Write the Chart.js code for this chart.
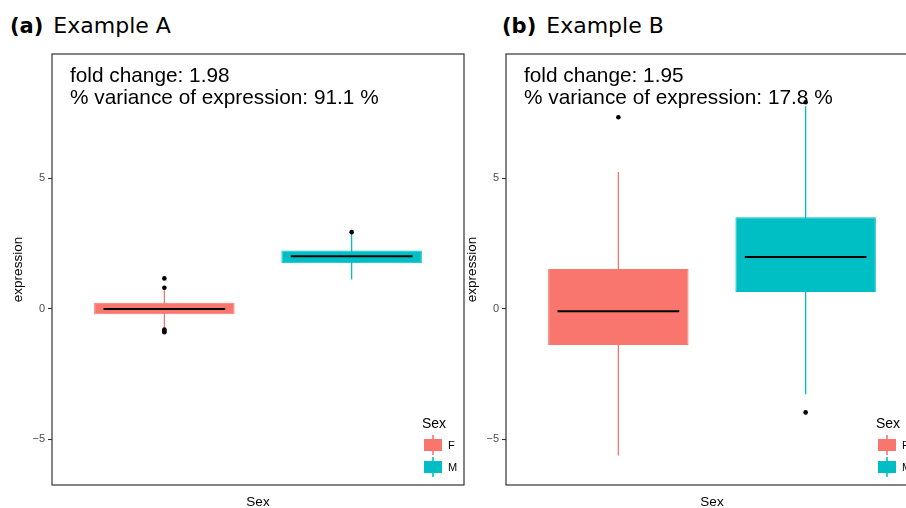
<!DOCTYPE html>
<html>
<head>
<meta charset="utf-8">
<title>Example A / Example B</title>
<script src="https://cdn.jsdelivr.net/npm/chart.js@4.4.1/dist/chart.umd.min.js"></script>
<style>
    html, body { margin: 0; padding: 0; background: #fff; overflow: hidden; width: 906px; height: 508px; }
    .panel { position: absolute; top: 0; width: 470px; height: 508px; }
    .panel canvas { position: absolute; left: 0; top: 0; }
    .tag { position: absolute; top: 15px; font-family: 'DejaVu Sans', sans-serif; font-size: 22px; line-height: 21px; color: #000; white-space: nowrap; }
    .tag b { font-weight: bold; font-size: 21px; margin-right: 3px; }
    .annot { position: absolute; left: 70px; top: 64px; font-family: 'Liberation Sans', Arial, sans-serif; font-size: 20.8px; line-height: 22px; color: #000; white-space: nowrap; }
    .legend { position: absolute; left: 422px; top: 415px; font-family: 'Liberation Sans', Arial, sans-serif; color: #000; }
    .legend .title { font-size: 14px; line-height: 16px; margin-bottom: 3px; }
    .legend .row { display: flex; align-items: center; height: 22px; }
    .legend .key { position: relative; width: 18px; height: 22px; margin-left: 2px; }
    .legend .key .wline { position: absolute; left: 8.4px; top: 1px; width: 1.3px; height: 20px; opacity: 0.8; }
    .legend .key .wbox { position: absolute; left: 0; top: 5px; width: 18px; height: 12px; }
    .legend .label { font-size: 11px; margin-left: 6px; }
</style>
</head>
<body>
<div class="tag" style="left:10px"><b>(a)</b> Example A</div>
<div class="tag" style="left:502px"><b>(b)</b> Example B</div>

<div class="panel" id="panel-a" style="left:0px">
    <canvas id="chart-a" width="470" height="508"></canvas>
    <div class="annot">fold change: 1.98<br>% variance of expression: 91.1 %</div>
</div>
<div class="panel" id="panel-b" style="left:454px">
    <canvas id="chart-b" width="470" height="508"></canvas>
    <div class="annot">fold change: 1.95<br>% variance of expression: 17.8 %</div>
</div>

<script>
// Data
const groups = ['F', 'M'];
const groupColors = ['#F8766D', '#00BFC4'];
const yTicks = [-5, 0, 5];
const yMin = -6.75;
const yMax = 9.75;

// (a) Example A
const aLower = [-0.73, 1.12];
const aQ1 = [-0.21, 1.74];
const aMedian = [-0.01, 2.01];
const aQ3 = [0.23, 2.23];
const aUpper = [0.74, 2.92];
const aOutliersF = [1.16, 0.80, -0.80, -0.85, -0.90];
const aOutliersM = [2.93];

// (b) Example B
const bLower = [-5.62, -3.28];
const bQ1 = [-1.39, 0.64];
const bMedian = [-0.10, 1.98];
const bQ3 = [1.52, 3.50];
const bUpper = [5.23, 7.75];
const bOutliersF = [7.33];
const bOutliersM = [7.90, -3.97];

// Box geometry (in category units)
const boxWidth = 0.75;
const medianWidth = 0.65;
const xMin = 0.4;
const xMax = 2.6;

// Border round the plot area
const framePlugin = {
    id: 'frame',
    afterDatasetsDraw(chart) {
        const { ctx, chartArea: a } = chart;
        ctx.save();
        ctx.strokeStyle = '#333333';
        ctx.lineWidth = 1.2;
        ctx.strokeRect(a.left, a.top, a.right - a.left, a.bottom - a.top);
        ctx.restore();
    }
};

function boxChart(canvasId, s) {
    const datasets = [];

    groups.forEach((g, i) => {
        // whisker
        datasets.push({
            type: 'line',
            data: [{ x: i + 1, y: s.lower[i] }, { x: i + 1, y: s.upper[i] }],
            borderColor: groupColors[i],
            borderWidth: 1.3,
            pointRadius: 0,
            fill: false,
            order: 4
        });
        // median
        datasets.push({
            type: 'line',
            data: [
                { x: i + 1 - medianWidth / 2, y: s.median[i] },
                { x: i + 1 + medianWidth / 2, y: s.median[i] }
            ],
            borderColor: '#000000',
            borderWidth: 2,
            pointRadius: 0,
            fill: false,
            order: 2
        });
    });

    // boxes
    datasets.push({
        type: 'bar',
        data: groups.map((g, i) => ({ x: i + 1, y: [s.q1[i], s.q3[i]] })),
        backgroundColor: groupColors,
        borderColor: groupColors,
        borderWidth: 1,
        borderSkipped: false,
        barPercentage: boxWidth,
        categoryPercentage: 1,
        grouped: false,
        order: 3
    });

    // outliers
    datasets.push({
        type: 'scatter',
        data: [
            ...s.outF.map(y => ({ x: 1, y })),
            ...s.outM.map(y => ({ x: 2, y }))
        ],
        pointRadius: 2.3,
        pointBackgroundColor: '#000000',
        pointBorderWidth: 0,
        order: 1
    });

    return new Chart(document.getElementById(canvasId), {
        type: 'bar',
        data: { datasets },
        plugins: [framePlugin],
        options: {
            responsive: false,
            animation: false,
            devicePixelRatio: 1,
            layout: { padding: { top: 54, right: 6, left: 0, bottom: 0 } },
            plugins: { legend: { display: false }, tooltip: { enabled: false } },
            scales: {
                x: {
                    type: 'linear',
                    min: xMin,
                    max: xMax,
                    offset: false,
                    afterBuildTicks: sc => { sc.ticks = groups.map((g, i) => ({ value: i + 1 })); },
                    afterFit: sc => { sc.height = 23; },
                    ticks: { display: false },
                    grid: { display: false },
                    border: { display: false },
                    title: {
                        display: true,
                        text: 'Sex',
                        color: '#000000',
                        font: { family: 'Liberation Sans', size: 13.5 },
                        padding: { top: 0, bottom: -2 }
                    }
                },
                y: {
                    type: 'linear',
                    min: yMin,
                    max: yMax,
                    afterBuildTicks: sc => { sc.ticks = yTicks.map(v => ({ value: v })); },
                    afterFit: sc => { sc.width = 52; },
                    ticks: {
                        color: '#4D4D4D',
                        padding: 3,
                        font: { family: 'Liberation Sans', size: 11 },
                        callback: v => (v < 0 ? '\u2212' + Math.abs(v) : String(v))
                    },
                    grid: { display: true, drawOnChartArea: false, drawTicks: true, tickLength: 4, tickColor: '#333333', tickWidth: 1.1 },
                    border: { display: false },
                    title: {
                        display: true,
                        text: 'expression',
                        color: '#000000',
                        font: { family: 'Liberation Sans', size: 13.5 },
                        padding: { top: 10, bottom: 0 }
                    }
                }
            }
        }
    });
}

// HTML legend, drawn inside the plot area like the original
function addLegend(panelId) {
    const legend = document.createElement('div');
    legend.className = 'legend';
    legend.innerHTML = '<div class="title">Sex</div>';
    groups.forEach((g, i) => {
        const row = document.createElement('div');
        row.className = 'row';
        row.innerHTML = `
            <span class="key">
                <span class="wline" style="background:${groupColors[i]}"></span>
                <span class="wbox" style="background:${groupColors[i]}"></span>
            </span>
            <span class="label">${g}</span>`;
        legend.appendChild(row);
    });
    document.getElementById(panelId).appendChild(legend);
}

boxChart('chart-a', { lower: aLower, q1: aQ1, median: aMedian, q3: aQ3, upper: aUpper, outF: aOutliersF, outM: aOutliersM });
boxChart('chart-b', { lower: bLower, q1: bQ1, median: bMedian, q3: bQ3, upper: bUpper, outF: bOutliersF, outM: bOutliersM });
addLegend('panel-a');
addLegend('panel-b');
</script>
</body>
</html>
